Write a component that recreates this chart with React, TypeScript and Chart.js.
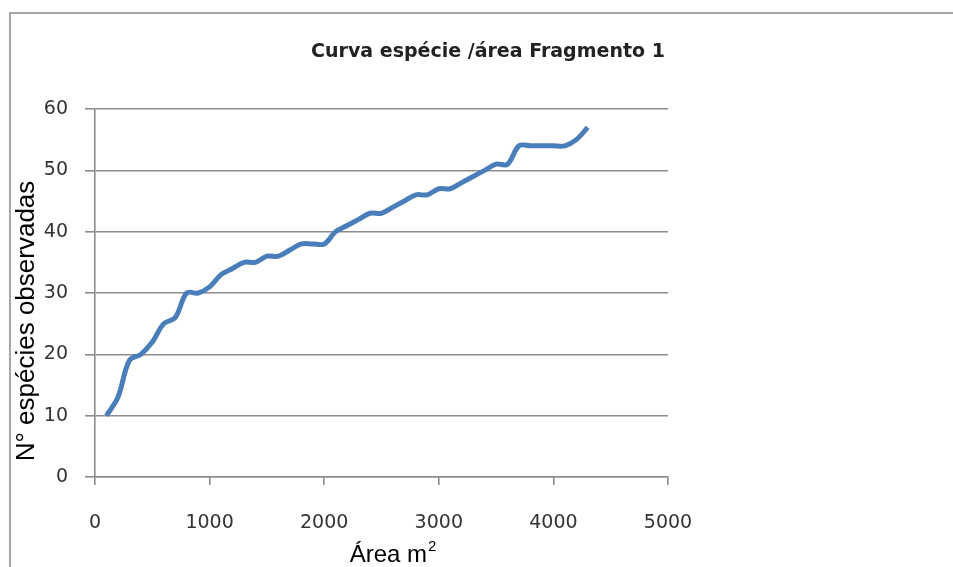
import { useEffect, useRef } from "react";
import { Chart, registerables } from "chart.js";

Chart.register(...registerables);

const areas = [
  100, 200, 300, 400, 500, 600, 700, 800, 900, 1000,
  1100, 1200, 1300, 1400, 1500, 1600, 1700, 1800, 1900, 2000,
  2100, 2200, 2300, 2400, 2500, 2600, 2700, 2800, 2900, 3000,
  3100, 3200, 3300, 3400, 3500, 3600, 3700, 3800, 3900, 4000,
  4100, 4200, 4300,
];
const species = [
  10, 13, 19, 20, 22, 25, 26, 30, 30, 31,
  33, 34, 35, 35, 36, 36, 37, 38, 38, 38,
  40, 41, 42, 43, 43, 44, 45, 46, 46, 47,
  47, 48, 49, 50, 51, 51, 54, 54, 54, 54,
  54, 55, 57,
];
const xTickValues = [0, 1000, 2000, 3000, 4000, 5000];
const yTickValues = [0, 10, 20, 30, 40, 50, 60];
const chartTitle = "Curva espécie /área Fragmento 1";
const yAxisTitle = "N° espécies observadas";
const xAxisTitle = "Área m";
const xAxisTitleSup = "2";

const W = 953;
const H = 567;
const GRID = "#8c8c8c";

const decorPlugin = {
  id: "decor",
  beforeDraw(chart: any) {
    const ctx = chart.ctx;
    ctx.save();
    ctx.fillStyle = "#ffffff";
    ctx.fillRect(0, 0, W, H);
    ctx.strokeStyle = "#a6a6a6";
    ctx.lineWidth = 2;
    ctx.beginPath();
    ctx.moveTo(10, H);
    ctx.lineTo(10, 13);
    ctx.lineTo(W, 13);
    ctx.stroke();
    ctx.restore();
  },
  afterDraw(chart: any) {
    const ctx = chart.ctx;
    ctx.save();
    // title
    ctx.fillStyle = "#222222";
    ctx.font = "bold 19px 'DejaVu Sans'";
    ctx.textAlign = "center";
    ctx.textBaseline = "alphabetic";
    ctx.fillText(chartTitle, 488, 57);
    // y axis title
    ctx.fillStyle = "#000000";
    ctx.font = "26px 'Liberation Sans', Arial";
    ctx.save();
    ctx.translate(34, 321);
    ctx.rotate(-Math.PI / 2);
    ctx.textAlign = "center";
    ctx.fillText(yAxisTitle, 0, 0);
    ctx.restore();
    // x axis title with superscript
    ctx.font = "24px 'Liberation Sans', Arial";
    const mainW = ctx.measureText(xAxisTitle).width;
    ctx.font = "15px 'Liberation Sans', Arial";
    const supW = ctx.measureText(xAxisTitleSup).width;
    const total = mainW + supW + 1;
    const startX = 393 - total / 2;
    ctx.textAlign = "left";
    ctx.font = "24px 'Liberation Sans', Arial";
    ctx.fillText(xAxisTitle, startX, 562);
    ctx.font = "15px 'Liberation Sans', Arial";
    ctx.fillText(xAxisTitleSup, startX + mainW + 1, 551);
    ctx.restore();
  },
};

export default function App() {
  const ref = useRef<HTMLCanvasElement | null>(null);
  useEffect(() => {
    if (!ref.current) return;
    const chart = new Chart(ref.current, {
      type: "line",
      data: {
        datasets: [
          {
            data: areas.map((a, i) => ({ x: a, y: species[i] })),
            borderColor: "#4a7ebb",
            borderWidth: 5,
            pointRadius: 0,
            tension: 0.35,
            fill: false,
          },
        ],
      },
      options: {
        animation: false,
        responsive: false,
        layout: { padding: { left: 0, right: W - 668, top: 109, bottom: 0 } },
        plugins: {
          legend: { display: false },
          title: { display: false },
          tooltip: { enabled: false },
        },
        scales: {
          x: {
            type: "linear",
            min: 0,
            max: 5000,
            afterFit: (s: any) => {
              s.height = H - 477;
            },
            afterBuildTicks: (s: any) => {
              s.ticks = xTickValues.map((v) => ({ value: v }));
            },
            grid: {
              drawOnChartArea: false,
              drawTicks: true,
              tickLength: 8,
              color: GRID,
              lineWidth: 1.6,
            },
            border: { display: true, color: GRID, width: 1.6 },
            ticks: {
              color: "#333333",
              font: { family: "'DejaVu Sans'", size: 19 },
              padding: 27,
              maxRotation: 0,
              callback: (v: any) => String(v),
            },
          },
          y: {
            type: "linear",
            min: 0,
            max: 60,
            afterFit: (s: any) => {
              s.width = 95;
            },
            afterBuildTicks: (s: any) => {
              s.ticks = yTickValues.map((v) => ({ value: v }));
            },
            grid: {
              drawTicks: true,
              tickLength: 10,
              color: GRID,
              lineWidth: 1.6,
            },
            border: { display: true, color: GRID, width: 1.6 },
            ticks: {
              color: "#333333",
              font: { family: "'DejaVu Sans'", size: 19 },
              padding: 17,
              callback: (v: any) => String(v),
            },
          },
        },
      },
      plugins: [decorPlugin],
    });
    return () => chart.destroy();
  }, []);
  return (
    <div style={{ position: "fixed", left: 0, top: 0, width: W, height: H }}>
      <canvas ref={ref} width={W} height={H} style={{ width: W, height: H, display: "block" }} />
    </div>
  );
}
